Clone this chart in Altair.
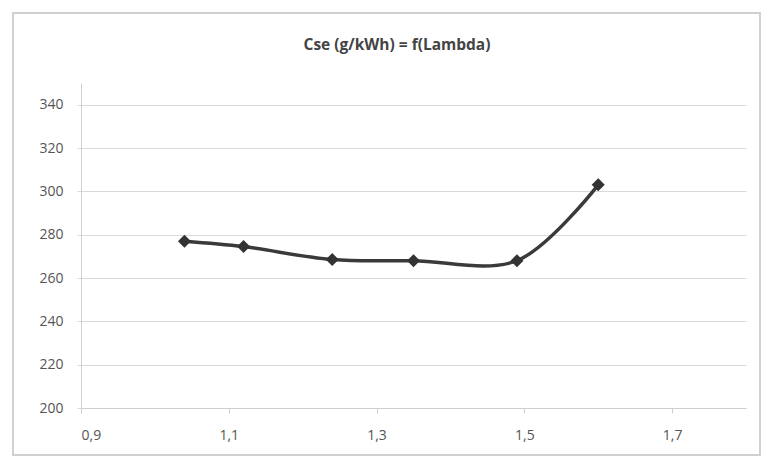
import altair as alt
import pandas as pd

lambda_vals = [1.04, 1.12, 1.24, 1.35, 1.49, 1.60]
cse_vals = [277, 274.5, 268.5, 268, 268, 303]
x_ticks = [0.9, 1.1, 1.3, 1.5, 1.7]
y_ticks = [200, 220, 240, 260, 280, 300, 320, 340]
title_text = ["Cse (g/kWh) = f(Lambda)"]

df = pd.DataFrame({"lambda": lambda_vals, "cse": cse_vals})
tdf = pd.DataFrame({"t": title_text})

FONT = "Open Sans"
x_enc = alt.X("lambda:Q", scale=alt.Scale(domain=[0.9, 1.8], nice=False, zero=False),
              axis=alt.Axis(values=x_ticks, title=None, grid=False,
                            labelExpr="replace(format(datum.value, '.1f'), '.', ',')",
                            domainColor="#cfcfcf", tickColor="#cfcfcf", tickSize=5,
                            labelFont=FONT, labelFontSize=14, labelColor="#555555",
                            labelPadding=15))
y_enc = alt.Y("cse:Q", scale=alt.Scale(domain=[200, 350], nice=False, zero=False),
              axis=alt.Axis(values=y_ticks, title=None, grid=True, gridColor="#d9d9d9",
                            domainColor="#cfcfcf", tickColor="#d9d9d9", tickSize=4,
                            labelFont=FONT, labelFontSize=14, labelColor="#555555",
                            labelPadding=14))

line = alt.Chart(df).mark_line(color="#3a3a3a", strokeWidth=3.5, interpolate="catmull-rom").encode(
    x=x_enc, y=y_enc)
pts = alt.Chart(df).mark_point(shape="diamond", filled=True, color="#333333", size=170, opacity=1).encode(
    x="lambda:Q", y="cse:Q")
border = alt.Chart(df).mark_rect(fill=None, stroke="#d0d0d0", strokeWidth=1.5, clip=False).encode(
    x=alt.value(-68), x2=alt.value(679), y=alt.value(-70), y2=alt.value(372))
title = alt.Chart(tdf).mark_text(font=FONT, fontSize=15.5, fontWeight="bold", color="#444444",
                                 align="center", baseline="middle").encode(
    x=alt.value(316), y=alt.value(-38), text="t:N")

chart = alt.layer(border, line, pts, title).properties(
    width=665, height=325,
    background="white",
    autosize=alt.AutoSizeParams(type="none"),
    padding={"left": 81, "top": 83, "right": 23, "bottom": 51},
).configure_view(strokeWidth=0)

chart.save("out.html", embed_options={"renderer": "svg", "actions": False})
